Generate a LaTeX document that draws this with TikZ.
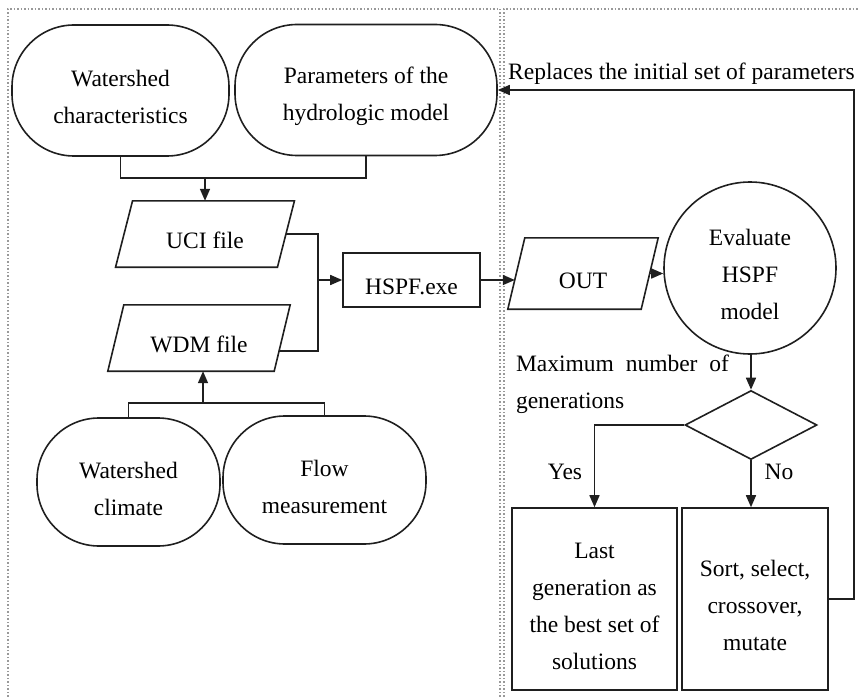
\documentclass[tikz,border=0pt]{standalone}
\usepackage{fontspec}
\setmainfont{Liberation Serif}
\usetikzlibrary{shapes.geometric,arrows.meta,calc}
\newcommand\lowr{\rule{0pt}{30pt}}
\begin{document}
\begin{tikzpicture}[x=1pt,y=-1pt,
  every node/.style={font=\fontsize{23.5}{37}\selectfont},
  line/.style={line width=1.6pt, draw=black!88},
  arr/.style={line, -{Triangle[length=12pt,width=10pt]}},
  oval/.style={draw=black!88, line width=1.6pt, rounded corners=62pt, align=center, inner sep=0},
  box/.style={draw=black!88, line width=1.6pt, align=center, inner sep=0},
  ghost/.style={inner sep=0, align=center},
  frame/.style={draw=black!40, dotted, line width=1.5pt}
]
\useasboundingbox (0,0) rectangle (859,698);

% frames
\draw[frame] (8,700) -- (8,9) -- (500,9) -- (500,700);
\draw[frame] (504,700) -- (504,9) -- (865,9);

% nodes
\node[oval, minimum width=217pt, minimum height=131pt] (WC) at (120.5,90.5) {\lowr Watershed\\characteristics};
\node[oval, minimum width=262pt, minimum height=131pt] (PH) at (366,90) {\lowr Parameters of the\\hydrologic model};
\node[ghost, minimum width=161.5pt, minimum height=66pt] (UCI) at (205,234) {\lowr UCI file};
\node[ghost, minimum width=166pt, minimum height=66pt] (WDM) at (199,338) {\lowr WDM file};
\node[box, minimum width=137pt, minimum height=54pt] (HSPF) at (411.5,280) {\lowr HSPF.exe};
\node[ghost, minimum width=133pt, minimum height=71pt] (OUT) at (583,273.5) {\lowr OUT};
\node[circle, draw=black!88, line width=1.6pt, minimum size=172pt, inner sep=0, align=center] (EV) at (750,268) {\lowr Evaluate\\HSPF\\model};
\node[diamond, draw=black!88, line width=1.6pt, minimum width=132pt, minimum height=69pt, inner sep=0] (DEC) at (751,425) {};
\node[box, minimum width=165pt, minimum height=182pt] (LAST) at (594.5,599) {\lowr Last\\generation as\\the best set of\\solutions};
\node[box, minimum width=146pt, minimum height=182pt] (SORT) at (755,599) {\lowr Sort, select,\\crossover,\\mutate};
\node[oval, minimum width=183pt, minimum height=128pt] (WCL) at (128.5,482) {\lowr Watershed\\climate};
\node[oval, minimum width=203pt, minimum height=128pt] (FM) at (324.5,480) {\lowr Flow\\measurement};

% parallelogram outlines
\draw[line] ([xshift=8.5pt]UCI.north west) -- ([xshift=8.5pt]UCI.north east) -- ([xshift=-8.5pt]UCI.south east) -- ([xshift=-8.5pt]UCI.south west) -- cycle;
\draw[line] ([xshift=8pt]WDM.north west) -- ([xshift=8pt]WDM.north east) -- ([xshift=-8pt]WDM.south east) -- ([xshift=-8pt]WDM.south west) -- cycle;
\draw[line] ([xshift=8.5pt]OUT.north west) -- ([xshift=8.5pt]OUT.north east) -- ([xshift=-8.5pt]OUT.south east) -- ([xshift=-8.5pt]OUT.south west) -- cycle;

% labels
\node[anchor=base west, inner sep=0] (REP) at (508,80) {Replaces the initial set of parameters};
\node[inner sep=0, text width=213pt, align=justify] (MAX) at (622.5,384) {Maximum number of generations};
\node[inner sep=0] (YES) at (565,472) {Yes};
\node[inner sep=0] (NO) at (779,472) {No};

% connectors
\coordinate (j1) at (205,178);
\draw[line] (WC.south) -- (WC.south |- j1) -- (PH.south |- j1) -- (PH.south);
\draw[arr] (j1) -- (j1 |- UCI.north);

\coordinate (j3) at (318,280);
\draw[line] (UCI.east) -- (UCI.east -| j3) -- ([yshift=-13pt]WDM.east -| j3) -- ([xshift=-3.2pt,yshift=-13pt]WDM.east);
\draw[arr] (j3) -- (HSPF.west);
\draw[arr] (HSPF.east) -- ([xshift=-1.5pt]HSPF.east -| OUT.west);
\draw[arr] (OUT.east) -- (OUT.east -| EV.west);
\draw[arr] (EV.south -| DEC.north) -- (DEC.north);
\draw[arr] (DEC.west) -| (LAST.north);
\draw[arr] (DEC.south) -- (DEC.south |- SORT.north);
\draw[arr] (SORT.east) -- ++(25,0) |- (PH.east);

\coordinate (j2) at (203,403);
\draw[line] (WCL.north) -- (WCL.north |- j2) -- (FM.north |- j2) -- (FM.north);
\draw[arr] (j2) -- (j2 |- WDM.south);
\end{tikzpicture}
\end{document}
